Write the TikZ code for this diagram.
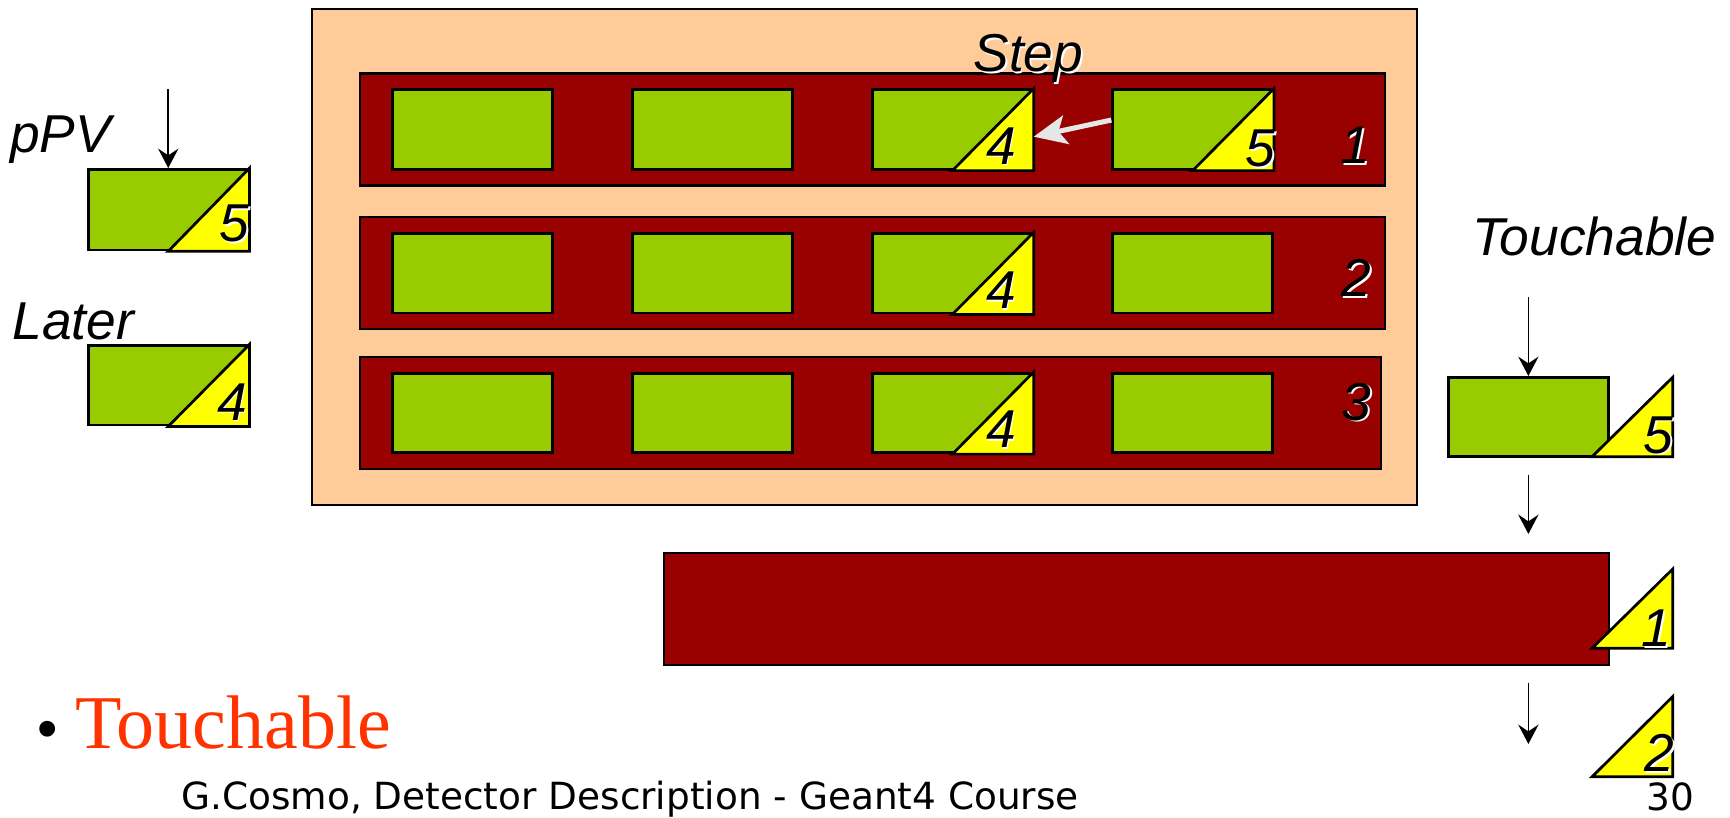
\documentclass[tikz,border=0pt]{standalone}
\usepackage{fontspec}
\setmainfont{Liberation Sans}
\newfontfamily\serifface{Liberation Serif}
\newfontfamily\footface{DejaVu Sans}
\usetikzlibrary{arrows.meta,calc}
\definecolor{peach}{HTML}{FFCC99}
\definecolor{darkred}{HTML}{990000}
\definecolor{boxgreen}{HTML}{99CC00}
\definecolor{triyellow}{HTML}{FFFF00}
\definecolor{lightarrow}{HTML}{E6E6E6}
\definecolor{titlered}{HTML}{FF3300}
\newcommand\labfont{\itshape\fontsize{27.5}{31}\selectfont}
\newcommand\halftri[1]{\filldraw[ytri] (#1.south) -- (#1.south east) -- (#1.north east) -- cycle;}
\newcommand\shlab[4]{%
  \node[lab, shadowtext, anchor=#2] at (#3) {#4};
  \node[lab, anchor=#2] (#1) at (#3) {#4};}
\begin{document}
\begin{tikzpicture}[x=0.02cm, y=-0.02cm,
  sz/.style 2 args={minimum width=#1*0.02cm, minimum height=#2*0.02cm},
  pbox/.style={draw=black, line width=1.1pt, fill=peach, inner sep=0pt},
  rbox/.style={draw=black, line width=1.2pt, fill=darkred, inner sep=0pt},
  gbox/.style={draw=black, line width=1.4pt, fill=boxgreen, inner sep=0pt, sz={145}{72}},
  ytri/.style={draw=black, line width=1.4pt, fill=triyellow},
  lab/.style={font=\labfont, inner sep=0pt},
  shadowtext/.style={text=white, xshift=0.9pt, yshift=-0.9pt},
  arr/.style={line width=0.85pt, -{Stealth[length=10pt,width=10.5pt,inset=3.5pt]}},
  steparr/.style={line width=2.6pt, color=lightarrow, -{Stealth[length=17pt,width=15pt,inset=4pt]}}
]
\useasboundingbox (0,0) rectangle (1568,741);
\fill[white] (0,0) rectangle (1568,741);

% outer mother volume
\node[pbox, sz={1001}{449}] (outer) at (783.5,232.9) {};
% rows
\node[rbox, sz={929}{101.5}] (row1) at (790.8,117.25) {};
\node[rbox, sz={929}{101.5}] (row2) at (790.8,247.5) {};
\node[rbox, sz={925.4}{101.7}] (row3) at (789,374.15) {};

% green boxes
\foreach \r/\yy in {1/117.4, 2/247.75, 3/374.35}
  \foreach \c/\xx in {1/428.5, 2/646, 3/863.2, 4/1081}
    \node[gbox] (g\r\c) at (\xx,\yy) {};
\halftri{g13}
\halftri{g23}
\halftri{g33}
\halftri{g14}

% left boxes
\node[gbox, sz={145}{73}] (ppv) at (152.5,190) {};
\halftri{ppv}
\node[gbox] (later) at (152.5,349.25) {};
\halftri{later}

% touchable
\node[gbox] (tg) at (1385.25,378) {};
\node[rbox, sz={856.6}{101.2}] (rw) at (1030.1,552.1) {};
\coordinate (t1a) at (1443,413.9); \coordinate (t1b) at (1516,413.9); \coordinate (t1c) at (1516,342);
\coordinate (t2a) at (1443,587.5); \coordinate (t2b) at (1516,587.5); \coordinate (t2c) at (1516,515.8);
\coordinate (t3a) at (1443,704);   \coordinate (t3b) at (1516,704);   \coordinate (t3c) at (1516,631.4);
\filldraw[ytri] (t1a) -- (t1b) -- (t1c) -- cycle;
\filldraw[ytri] (t2a) -- (t2b) -- (t2c) -- cycle;
\filldraw[ytri] (t3a) -- (t3b) -- (t3c) -- cycle;

% labels
\node[lab, anchor=base west] (lppv) at (9,138) {pPV};
\node[lab, anchor=base west] (llater) at (11,308) {Later};
\node[lab, anchor=base west] (ltouch) at (1334,232) {Touchable};
\shlab{lstep}{base west}{882,65}{Step}
\shlab{n1}{base east}{1242,148}{1}
\shlab{n2}{base east}{1243,269}{2}
\shlab{n3}{base east}{1243,380.7}{3}
\shlab{c14}{base east}{921,148.7}{4}
\shlab{c24}{base east}{921,279.5}{4}
\shlab{c34}{base east}{921,405.4}{4}
\shlab{c15}{base east}{1156,151}{5}
\shlab{pp5}{base east}{226,219}{5}
\shlab{la4}{base east}{224,380.7}{4}
\shlab{tt5}{base east}{1517,410.8}{5}
\shlab{tt1}{base east}{1515,586}{1}
\shlab{tt2}{base east}{1518,699.5}{2}

% arrows
\coordinate (ppvtop) at (153,81.6);
\draw[arr] (ppvtop) -- (ppv.north |- ppvtop) -- (ppv.north);
\draw[steparr] ([yshift=0.172cm]g14.west) -- ([yshift=-0.13cm]g13.east);
\coordinate (ttop) at (1385.25,269.5);
\draw[arr] (ttop) -- (tg.north);
\draw[arr, shorten <=0.3cm, shorten >=0.33cm] (tg.south) -- (tg.south |- rw.north);
\coordinate (tend) at (1385.25,674.3);
\draw[arr, shorten <=0.3cm] (tg.south |- rw.south) -- (tend);

% bullet and footer
\node[inner sep=0pt, anchor=base west, font=\fontsize{30}{34}\selectfont] (bul) at (34,678.3) {•};
\node[inner sep=0pt, anchor=base west, text=titlered, font=\serifface\fontsize{39.2}{44}\selectfont] (title) at (68,678.3) {Touchable};
\node[inner sep=0pt, anchor=base west, font=\footface\fontsize{19.3}{22}\selectfont] (foot) at (164,734) {G.Cosmo, Detector Description - Geant4 Course};
\node[inner sep=0pt, anchor=base east, font=\footface\fontsize{19.3}{22}\selectfont] (page) at (1536,734.5) {30};
\end{tikzpicture}
\end{document}
